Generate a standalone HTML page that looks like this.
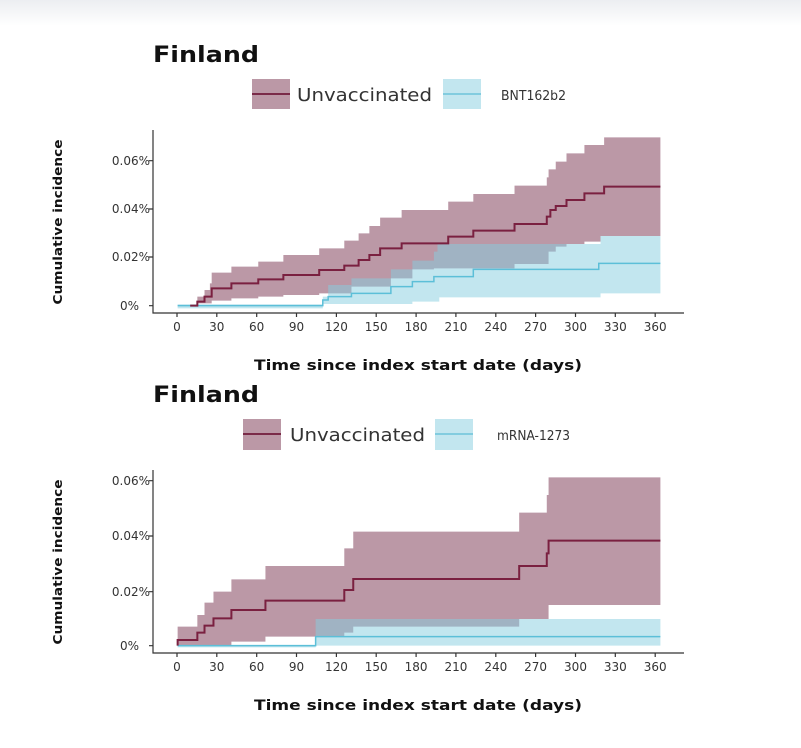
<!DOCTYPE html>
<html><head><meta charset="utf-8"><style>
html,body{margin:0;padding:0;background:#fff;}
svg{display:block;}
text{font-family:"DejaVu Sans","Liberation Sans",sans-serif;}
</style></head><body>
<svg width="801" height="748" viewBox="0 0 801 748" xmlns="http://www.w3.org/2000/svg">
<defs><linearGradient id="tg" x1="0" y1="0" x2="0" y2="1"><stop offset="0" stop-color="#eceef1"/><stop offset="1" stop-color="#ffffff"/></linearGradient></defs>
<rect x="0" y="0" width="801" height="26" fill="url(#tg)"/>

<!-- ===== TOP PLOT ===== -->
<text x="153" y="62" font-size="22" font-weight="bold" fill="#111" textLength="106" lengthAdjust="spacingAndGlyphs">Finland</text>
<rect x="252" y="79" width="38" height="30" fill="#bb98a6"/>
<line x1="252" y1="94" x2="290" y2="94" stroke="#7a2a48" stroke-width="2"/>
<text x="297" y="101" font-size="18" fill="#333" textLength="135" lengthAdjust="spacingAndGlyphs">Unvaccinated</text>
<rect x="443" y="79" width="38" height="30" fill="#c2e6ef"/>
<line x1="443" y1="94" x2="481" y2="94" stroke="#6cc3da" stroke-width="1.5"/>
<text x="501" y="100" font-size="13" fill="#333" textLength="65" lengthAdjust="spacingAndGlyphs">BNT162b2</text>

<g transform="translate(140,120) scale(0.3584,0.3333)">
<path d="M140,557 H160 V530 H180 V510 H195 V490 H200 V458 H255 V440 H330 V425 H400 V405 H500 V385 H570 V362 H610 V340 H640 V318 H670 V293 H730 V270 H860 V245 H930 V222 H1045 V197 H1135 V172 H1140 V148 H1160 V125 H1190 V100 H1240 V75 H1295 V52 H1452 V348 H1285 V365 H1240 V372 H1190 V380 H1160 V395 H1140 V432 H1045 V445 H820 V448 H760 V475 H700 V500 H590 V520 H500 V525 H400 V530 H330 V535 H255 V542 H200 V550 H160 V557 Z" fill="#bb98a6"/>
<path d="M105,553 H510 V530 H525 V495 H590 V475 H700 V448 H760 V422 H820 V395 H830 V372 H1285 V348 H1452 V520 H1285 V532 H835 V545 H760 V552 H510 V565 H105 Z" fill="rgb(133,205,223)" fill-opacity="0.5"/>
<path d="M105,557 H510 V540 H525 V530 H590 V520 H700 V500 H760 V485 H820 V470 H930 V448 H1280 V430 H1452" fill="none" stroke="#5cbfd8" stroke-width="1.5" vector-effect="non-scaling-stroke"/>
<path d="M140,557 H160 V545 H180 V530 H200 V505 H255 V490 H330 V478 H400 V465 H500 V450 H570 V437 H610 V420 H640 V405 H670 V385 H730 V370 H860 V350 H930 V332 H1045 V312 H1135 V290 H1145 V270 H1160 V258 H1190 V240 H1240 V220 H1295 V200 H1452" fill="none" stroke="#7a2040" stroke-width="2" vector-effect="non-scaling-stroke"/>
</g>
<g stroke="#333" stroke-width="1.2" fill="none">
<path d="M153,130 V313 H684"/>
<path d="M149,160.7 H153 M149,209 H153 M149,257 H153 M149,305.7 H153"/>
<path d="M177,313v4 M216.8,313v4 M256.7,313v4 M296.5,313v4 M336.4,313v4 M376.2,313v4 M416.1,313v4 M455.9,313v4 M495.8,313v4 M535.6,313v4 M575.5,313v4 M615.3,313v4 M655.2,313v4"/>
</g>
<g font-size="12" fill="#333" text-anchor="end">
<text x="150" y="165">0.06%</text><text x="150" y="213">0.04%</text><text x="150" y="261">0.02%</text><text x="139" y="310">0%</text>
</g>
<g font-size="12" fill="#333" text-anchor="middle">
<text x="177" y="331">0</text><text x="216.8" y="331">30</text><text x="256.7" y="331">60</text><text x="296.5" y="331">90</text><text x="336.4" y="331">120</text><text x="376.2" y="331">150</text><text x="416.1" y="331">180</text><text x="455.9" y="331">210</text><text x="495.8" y="331">240</text><text x="535.6" y="331">270</text><text x="575.5" y="331">300</text><text x="615.3" y="331">330</text><text x="655.2" y="331">360</text>
</g>
<text x="418" y="370" font-size="14" font-weight="bold" fill="#111" text-anchor="middle" textLength="328" lengthAdjust="spacingAndGlyphs">Time since index start date (days)</text>
<text transform="translate(62,222) rotate(-90)" font-size="12" font-weight="bold" fill="#111" text-anchor="middle" textLength="165" lengthAdjust="spacingAndGlyphs">Cumulative incidence</text>

<!-- ===== BOTTOM PLOT ===== -->
<text x="153" y="402" font-size="22" font-weight="bold" fill="#111" textLength="106" lengthAdjust="spacingAndGlyphs">Finland</text>
<rect x="243" y="419" width="38" height="31" fill="#bb98a6"/>
<line x1="243" y1="434" x2="281" y2="434" stroke="#7a2a48" stroke-width="2"/>
<text x="290" y="441" font-size="18" fill="#333" textLength="135" lengthAdjust="spacingAndGlyphs">Unvaccinated</text>
<rect x="435" y="419" width="38" height="31" fill="#c2e6ef"/>
<line x1="435" y1="434" x2="473" y2="434" stroke="#6cc3da" stroke-width="1.5"/>
<text x="497" y="440" font-size="13" fill="#333" textLength="73" lengthAdjust="spacingAndGlyphs">mRNA-1273</text>

<g transform="translate(140,460) scale(0.3584,0.3333)">
<path d="M105,500 H160 V465 H180 V428 H205 V395 H255 V358 H350 V318 H570 V265 H595 V215 H1058 V158 H1135 V105 H1140 V52 H1452 V435 H1140 V477 H1058 V500 H595 V518 H570 V530 H350 V532 H350 V545 H255 V557 H105 Z" fill="#bb98a6"/>
<path d="M105,557 H490 V477 H1452 V557 H490 V562 H105 Z" fill="rgb(133,205,223)" fill-opacity="0.5"/>
<path d="M105,557 H490 V530 H1452" fill="none" stroke="#5cbfd8" stroke-width="1.5" vector-effect="non-scaling-stroke"/>
<path d="M105,557 V540 H160 V518 H180 V497 H205 V475 H255 V450 H350 V422 H570 V390 H595 V357 H1058 V318 H1135 V280 H1140 V242 H1452" fill="none" stroke="#7a2040" stroke-width="2" vector-effect="non-scaling-stroke"/>
</g>
<g stroke="#333" stroke-width="1.2" fill="none">
<path d="M153,470 V653 H684"/>
<path d="M149,480.7 H153 M149,536 H153 M149,591.7 H153 M149,645.7 H153"/>
<path d="M177,653v4 M216.8,653v4 M256.7,653v4 M296.5,653v4 M336.4,653v4 M376.2,653v4 M416.1,653v4 M455.9,653v4 M495.8,653v4 M535.6,653v4 M575.5,653v4 M615.3,653v4 M655.2,653v4"/>
</g>
<g font-size="12" fill="#333" text-anchor="end">
<text x="150" y="485">0.06%</text><text x="150" y="540">0.04%</text><text x="150" y="596">0.02%</text><text x="139" y="650">0%</text>
</g>
<g font-size="12" fill="#333" text-anchor="middle">
<text x="177" y="671">0</text><text x="216.8" y="671">30</text><text x="256.7" y="671">60</text><text x="296.5" y="671">90</text><text x="336.4" y="671">120</text><text x="376.2" y="671">150</text><text x="416.1" y="671">180</text><text x="455.9" y="671">210</text><text x="495.8" y="671">240</text><text x="535.6" y="671">270</text><text x="575.5" y="671">300</text><text x="615.3" y="671">330</text><text x="655.2" y="671">360</text>
</g>
<text x="418" y="710" font-size="14" font-weight="bold" fill="#111" text-anchor="middle" textLength="328" lengthAdjust="spacingAndGlyphs">Time since index start date (days)</text>
<text transform="translate(62,562) rotate(-90)" font-size="12" font-weight="bold" fill="#111" text-anchor="middle" textLength="165" lengthAdjust="spacingAndGlyphs">Cumulative incidence</text>
</svg>
</body></html>
